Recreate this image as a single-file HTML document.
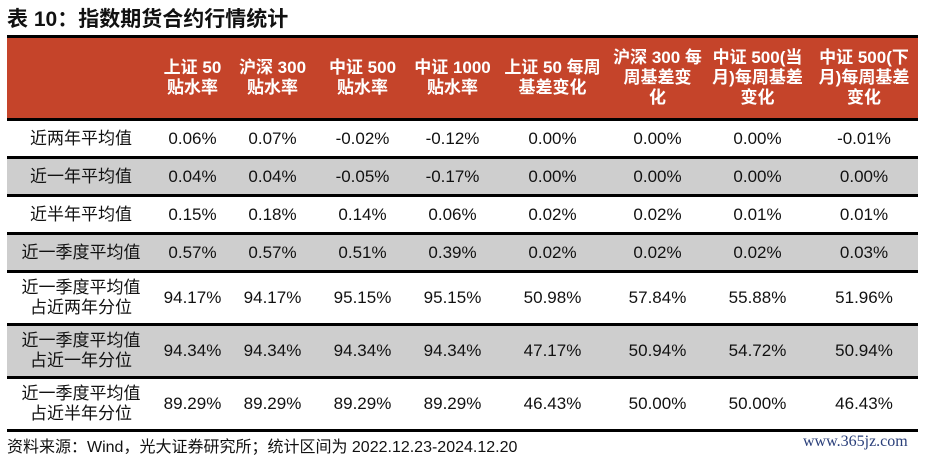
<!DOCTYPE html>
<html><head><meta charset="utf-8"><style>
body{margin:0;width:926px;height:459px;background:#fff;position:relative;overflow:hidden;font-family:"Liberation Sans","Noto Sans CJK SC",sans-serif;}
#title{position:absolute;left:7px;top:3px;font-size:21px;font-weight:bold;color:#111;}
table{position:absolute;left:7px;top:35px;width:911px;border-collapse:collapse;table-layout:fixed;}
td,th{text-align:center;padding:0;font-size:17px;color:#111;line-height:20px;}
th{background:#c5442a;color:#fff;font-weight:bold;height:80px;border-top:3px solid #000;border-bottom:3px solid #000;}
td{border-bottom:3px solid #000;}
tr.s td{height:35px}
tr.t td{height:50px}
tr.g td{background:#cecece}
#src{position:absolute;left:7px;top:433px;font-size:16px;color:#111;}
#wm{position:absolute;left:803px;top:433px;font-size:16px;color:#2a3f7a;font-family:"Liberation Serif","DejaVu Serif",serif;}
</style></head><body>
<div id="title">表 10：指数期货合约行情统计</div>
<table>
<colgroup><col style="width:148px"><col style="width:75px"><col style="width:85px"><col style="width:95px"><col style="width:85px"><col style="width:115px"><col style="width:95px"><col style="width:105px"><col style="width:108px"></colgroup>
<tr><th></th><th>上证 50<br>贴水率</th><th>沪深 300<br>贴水率</th><th>中证 500<br>贴水率</th><th>中证 1000<br>贴水率</th><th>上证 50 每周<br>基差变化</th><th>沪深 300 每<br>周基差变<br>化</th><th>中证 500(当<br>月)每周基差<br>变化</th><th>中证 500(下<br>月)每周基差<br>变化</th></tr>
<tr class="s"><td>近两年平均值</td><td>0.06%</td><td>0.07%</td><td>-0.02%</td><td>-0.12%</td><td>0.00%</td><td>0.00%</td><td>0.00%</td><td>-0.01%</td></tr>
<tr class="s g"><td>近一年平均值</td><td>0.04%</td><td>0.04%</td><td>-0.05%</td><td>-0.17%</td><td>0.00%</td><td>0.00%</td><td>0.00%</td><td>0.00%</td></tr>
<tr class="s"><td>近半年平均值</td><td>0.15%</td><td>0.18%</td><td>0.14%</td><td>0.06%</td><td>0.02%</td><td>0.02%</td><td>0.01%</td><td>0.01%</td></tr>
<tr class="s g"><td>近一季度平均值</td><td>0.57%</td><td>0.57%</td><td>0.51%</td><td>0.39%</td><td>0.02%</td><td>0.02%</td><td>0.02%</td><td>0.03%</td></tr>
<tr class="t"><td>近一季度平均值<br>占近两年分位</td><td>94.17%</td><td>94.17%</td><td>95.15%</td><td>95.15%</td><td>50.98%</td><td>57.84%</td><td>55.88%</td><td>51.96%</td></tr>
<tr class="t g"><td>近一季度平均值<br>占近一年分位</td><td>94.34%</td><td>94.34%</td><td>94.34%</td><td>94.34%</td><td>47.17%</td><td>50.94%</td><td>54.72%</td><td>50.94%</td></tr>
<tr class="t"><td>近一季度平均值<br>占近半年分位</td><td>89.29%</td><td>89.29%</td><td>89.29%</td><td>89.29%</td><td>46.43%</td><td>50.00%</td><td>50.00%</td><td>46.43%</td></tr>
</table>
<div id="src">资料来源：Wind，光大证券研究所；统计区间为 2022.12.23-2024.12.20</div>
<div id="wm">www.365jz.com</div>
</body></html>
